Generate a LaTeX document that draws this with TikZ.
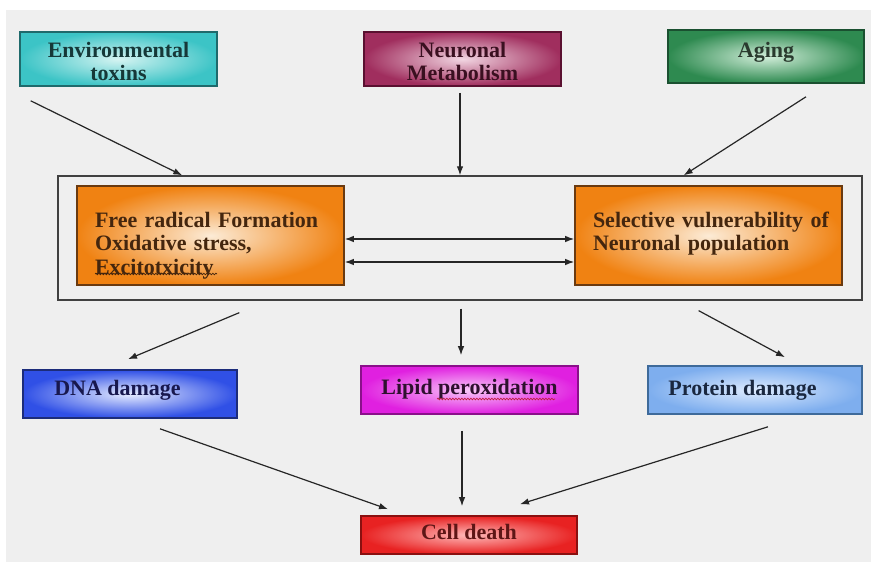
\documentclass[tikz,border=0pt]{standalone}
\usepackage{fontspec}
\setmainfont{Liberation Serif}
\usetikzlibrary{arrows.meta,calc,decorations.pathmorphing}
\definecolor{bg}{HTML}{EFEFEF}
\definecolor{cyO}{HTML}{3CC4C6}\definecolor{cyI}{HTML}{D6F4F2}\definecolor{cyD}{HTML}{1F6A6C}\definecolor{cyT}{HTML}{163838}
\definecolor{maO}{HTML}{A02E5E}\definecolor{maI}{HTML}{F2D6E2}\definecolor{maD}{HTML}{5A1030}\definecolor{maT}{HTML}{3A1020}
\definecolor{grO}{HTML}{2E8A50}\definecolor{grI}{HTML}{D2EEDA}\definecolor{grD}{HTML}{1A5030}\definecolor{grT}{HTML}{2A3A2E}
\definecolor{orO}{HTML}{F08212}\definecolor{orI}{HTML}{FCEBD6}\definecolor{orD}{HTML}{6A3A10}\definecolor{orT}{HTML}{44260E}
\definecolor{blO}{HTML}{3050E6}\definecolor{blI}{HTML}{E6ECFF}\definecolor{blD}{HTML}{1C2C7A}\definecolor{blT}{HTML}{18184E}
\definecolor{mgO}{HTML}{E020E0}\definecolor{mgI}{HTML}{F8C8F8}\definecolor{mgD}{HTML}{8A108A}\definecolor{mgT}{HTML}{2E102E}
\definecolor{lbO}{HTML}{7EAEEE}\definecolor{lbI}{HTML}{DDEBFF}\definecolor{lbD}{HTML}{3E6A9A}\definecolor{lbT}{HTML}{1A2840}
\definecolor{rdO}{HTML}{E82222}\definecolor{rdI}{HTML}{FFB8B8}\definecolor{rdD}{HTML}{8A1010}\definecolor{rdT}{HTML}{5E1616}
\definecolor{squig}{HTML}{C02040}
\tikzset{
  box/.style={line width=1.6pt, inner sep=0pt, align=center,
    font=\bfseries\fontsize{22}{23.5}\selectfont, shading=radial, text height=15pt},
  cy/.style={box, draw=cyD, inner color=cyI, outer color=cyO, text=cyT},
  ma/.style={box, draw=maD, inner color=maI, outer color=maO, text=maT},
  gr/.style={box, draw=grD, inner color=grI, outer color=grO, text=grT},
  orb/.style={box, draw=orD, inner color=orI, outer color=orO, text=orT, align=left,
    minimum width=267pt, minimum height=99pt, text width=249pt, text depth=31pt},
  bl/.style={box, draw=blD, inner color=blI, outer color=blO, text=blT},
  mg/.style={box, draw=mgD, inner color=mgI, outer color=mgO, text=mgT},
  lb/.style={box, draw=lbD, inner color=lbI, outer color=lbO, text=lbT},
  rd/.style={box, draw=rdD, inner color=rdI, outer color=rdO, text=rdT},
  arr/.style={draw=black!85, line width=1.2pt, -{Latex[length=9pt,width=6.5pt]}},
  darr/.style={draw=black!85, line width=1.2pt, {Latex[length=9pt,width=6.5pt]}-{Latex[length=9pt,width=6.5pt]}},
  wavy/.style={draw=squig, line width=0.7pt, decorate, decoration={snake, segment length=3pt, amplitude=0.8pt}},
}
\newcommand{\ind}{\hspace*{9pt}}
\begin{document}
\begin{tikzpicture}[x=1pt,y=-1pt]
\useasboundingbox (0,0) rectangle (871,567);
\fill[bg] (6,10) rectangle (871,562);
% top row
\node[cy, minimum width=197pt, minimum height=54pt, text height=45pt, text depth=1pt] (env) at (118.5,59) {Environmental\\toxins};
\node[ma, minimum width=197pt, minimum height=54pt, text height=45pt, text depth=1pt] (neuro) at (462.5,59) {Neuronal\\Metabolism};
\node[gr, minimum width=196pt, minimum height=53pt, text depth=13pt] (aging) at (766,56.5) {Aging};
% frame
\node[draw=black!75, line width=1.3pt, minimum width=804pt, minimum height=124pt, inner sep=0pt] (outer) at (460,238) {};
\node[orb] (frf) at (210.5,235.5) {\ind Free radical Formation\\\ind Oxidative stress,\\\ind Excitotxicity};
\node[orb] (sel) at (708.5,235.5) {\ind Selective vulnerability of\\\ind Neuronal population};
% middle row
\node[bl, minimum width=214pt, minimum height=48pt, text depth=13pt] (dna) at (130,394) {\hspace*{-25pt}DNA damage};
\node[mg, minimum width=217pt, minimum height=48pt, text depth=7pt] (lipid) at (469.5,390) {Lipid peroxidation};
\node[lb, minimum width=214pt, minimum height=48pt, text depth=5pt] (protein) at (755,390) {\hspace*{-25pt}Protein damage};
% bottom
\node[rd, minimum width=216pt, minimum height=38pt, text depth=6pt] (cell) at (469,535) {Cell death};
% spell-check underlines
\draw[wavy] ([xshift=-32.5,yshift=-9]lipid.center) -- ([xshift=85.5,yshift=-9]lipid.center);
\draw[wavy, draw=orT] ([xshift=-115.5,yshift=-38.5]frf.center) -- ([xshift=6.5,yshift=-38.5]frf.center);
% arrows into frame
\draw[arr] ([xshift=11.5,yshift=-14]env.south west) -- ([xshift=125]outer.north west);
\draw[arr] ([xshift=-2.5,yshift=-6]neuro.south) -- ([xshift=-2.5]neuro.south |- outer.north);
\draw[arr] ([xshift=40,yshift=-13]aging.south) -- ([xshift=-179]outer.north east);
% double arrows
\draw[darr] ([yshift=-3.5]frf.east) -- ([yshift=-3.5]sel.west);
\draw[darr] ([yshift=-26.5]frf.east) -- ([yshift=-26.5]sel.west);
% arrows out of frame
\draw[arr] ([xshift=182,yshift=-12]outer.south west) -- ([xshift=-2,yshift=10]dna.north);
\draw[arr] ([xshift=1,yshift=-8]outer.south) -- ([xshift=1,yshift=10]outer.south |- lipid.north);
\draw[arr] ([xshift=-164,yshift=-10]outer.south east) -- ([xshift=30,yshift=8]protein.north);
% arrows to cell death
\draw[arr] ([xshift=30,yshift=-10]dna.south) -- ([xshift=-81,yshift=6]cell.north);
\draw[arr] ([xshift=-7.5,yshift=-16]lipid.south) -- ([xshift=-7,yshift=9]cell.north);
\draw[arr] ([xshift=13,yshift=-12]protein.south) -- ([xshift=51,yshift=11]cell.north);
\end{tikzpicture}
\end{document}
